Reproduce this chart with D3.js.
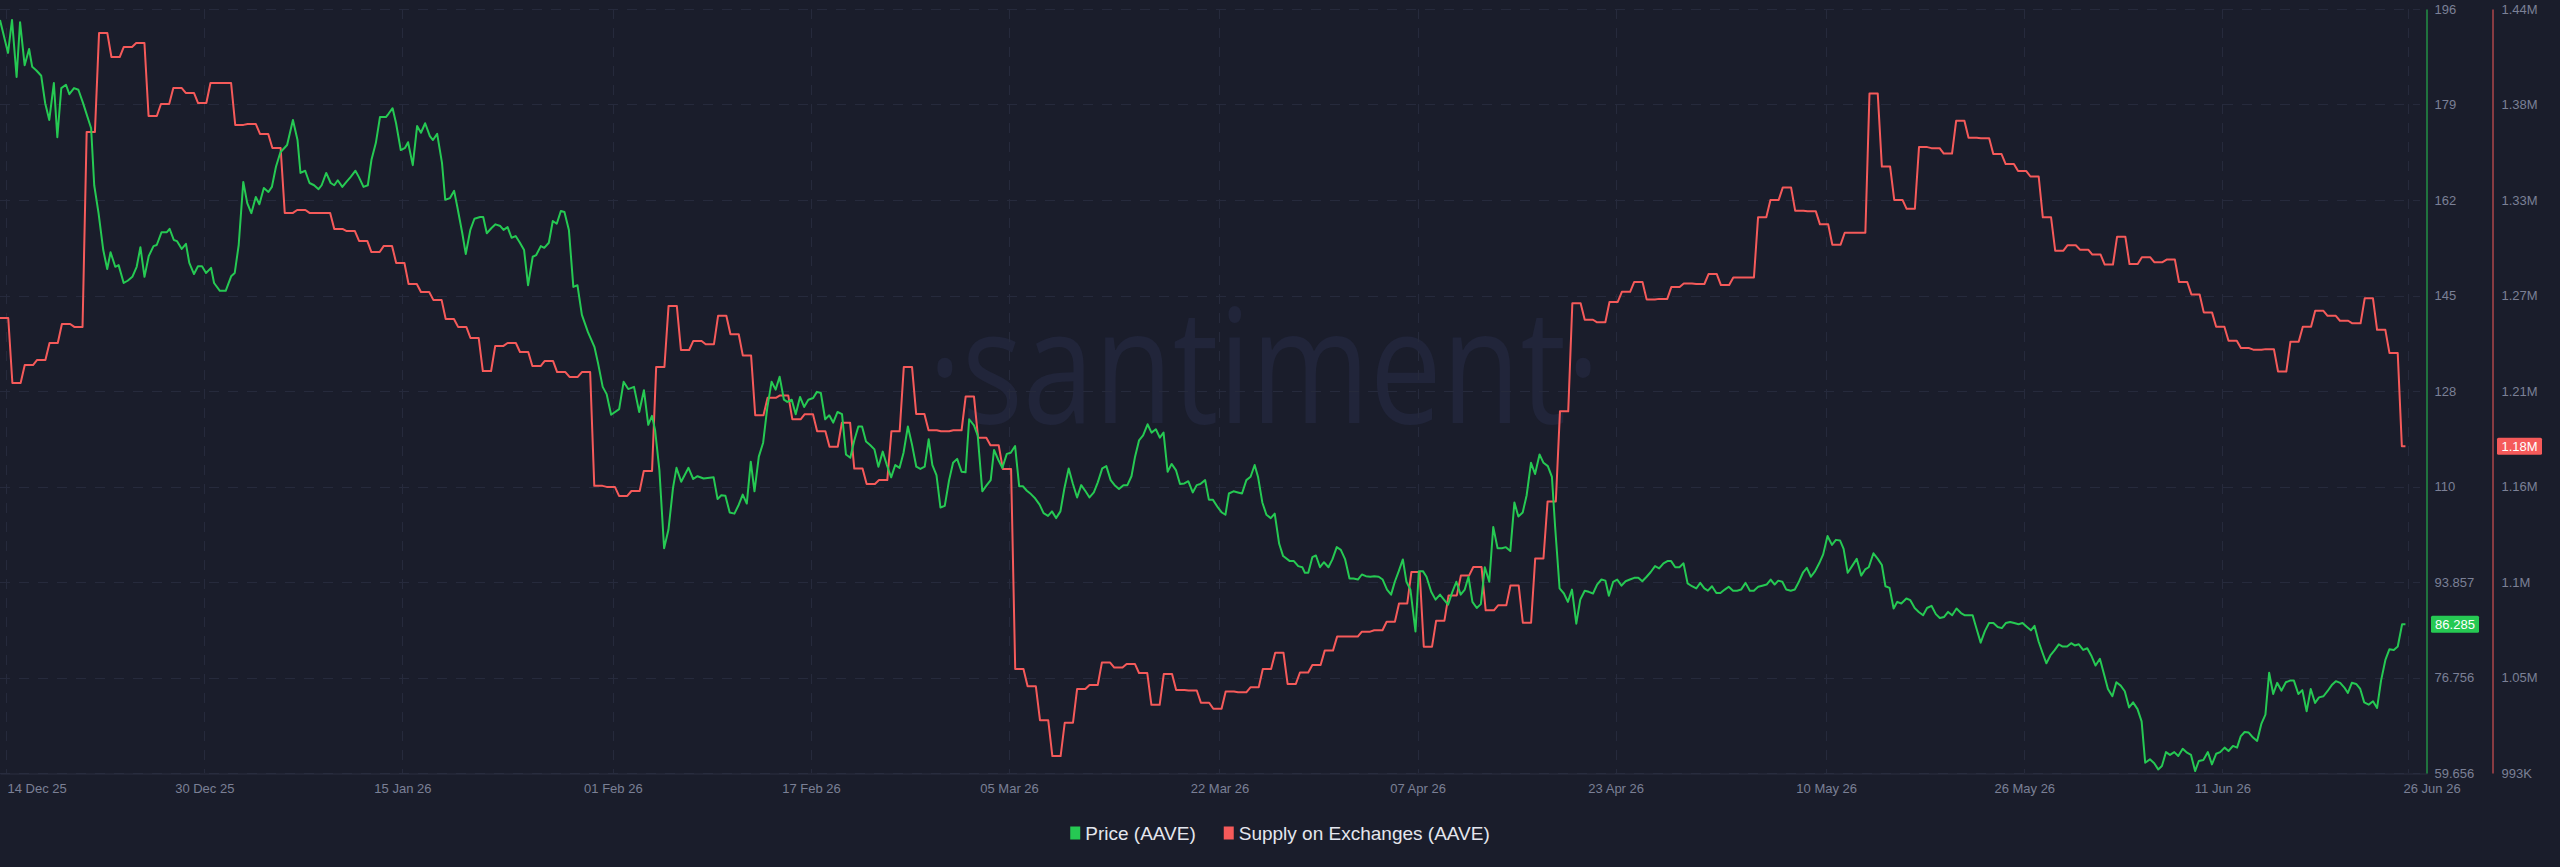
<!DOCTYPE html>
<html>
<head>
<meta charset="utf-8">
<script src="https://cdn.jsdelivr.net/npm/d3@7"></script>
<style>
  html, body { margin: 0; padding: 0; background: #1a1d2b; }
  svg { display: block; }
</style>
</head>
<body>
<div id="chart-area"></div>
<script>

// AAVE: price vs supply on exchanges, 14 Dec 25 -> 26 Jun 26 (UTC)
var DAY = 864e5;
var startDate = Date.UTC(2025, 11, 14);
var endDate = Date.UTC(2026, 5, 28, 0, 45);

var xTickDates = ["2025-12-14", "2025-12-30", "2026-01-15", "2026-02-01", "2026-02-17", "2026-03-05",
	"2026-03-22", "2026-04-07", "2026-04-23", "2026-05-10", "2026-05-26", "2026-06-11", "2026-06-26"];
var xTickLabels = ["14 Dec 25", "30 Dec 25", "15 Jan 26", "01 Feb 26", "17 Feb 26", "05 Mar 26",
	"22 Mar 26", "07 Apr 26", "23 Apr 26", "10 May 26", "26 May 26", "11 Jun 26", "26 Jun 26"];

var priceTickValues = [59.656, 76.756, 93.857, 110.957, 128.058, 145.158, 162.259, 179.36, 196.46];
var priceTickLabels = ["59.656", "76.756", "93.857", "110", "128", "145", "162", "179", "196"];

var supplyTickValues = [993000, 1048875, 1104750, 1160625, 1216500, 1272375, 1328250, 1384125, 1440000];
var supplyTickLabels = ["993K", "1.05M", "1.1M", "1.16M", "1.21M", "1.27M", "1.33M", "1.38M", "1.44M"];

// price (USD): [days since 14 Dec 25, value]
var priceSeries = [
	[0,194.5],[0.65,188.6],[0.97,194.5],[1.34,184.3],[1.62,194.1],[1.99,186.4],[2.35,189.3],[2.6,186.1],[2.92,185.5],[3.33,184.5],
	[3.65,179.6],[3.98,176.6],[4.35,183.2],[4.63,173.5],[4.95,182.3],[5.33,182.9],[5.6,181.2],[5.98,182.3],[6.33,182],[6.71,179.6],
	[7.36,175.1],[7.61,164.9],[7.96,159.9],[8.34,153.3],[8.66,149.9],[8.93,152.9],[9.31,150.3],[9.58,150.6],[9.99,147.4],[10.31,147.8],
	[10.69,148.5],[11.04,150.3],[11.34,153.8],[11.67,148.5],[12.01,152.2],[12.4,154],[12.66,154.2],[13.05,156.5],[13.48,156.5],[13.7,157.1],
	[14.04,155.1],[14.29,154.9],[14.68,153.5],[15.02,154.4],[15.29,151],[15.67,149],[15.99,150.4],[16.32,150.4],[16.64,149.2],[17.05,150.1],
	[17.29,147.4],[17.76,146],[18.23,146],[18.67,148.6],[18.96,149.2],[19.28,154.2],[19.65,165.5],[19.97,161.7],[20.3,159.9],[20.66,162.8],
	[20.95,161.5],[21.31,164.4],[21.68,163.7],[21.96,164.6],[22.29,168.2],[22.65,170.8],[23.19,172.1],[23.66,176.6],[24.03,173],[24.27,167.1],
	[24.65,167.5],[25,165.3],[25.37,164.9],[25.73,164.2],[25.98,164.9],[26.35,167.1],[26.71,165.3],[27,164.9],[27.28,165.8],[27.65,164.6],
	[27.98,165.5],[28.33,166.4],[28.71,167.5],[28.98,166.4],[29.36,164.6],[29.71,164.9],[30,169.4],[30.36,172.5],[30.69,177.1],[31.17,177.1],
	[31.38,177.7],[31.71,178.7],[31.99,176],[32.37,171.2],[32.72,171.6],[32.96,172.6],[33.34,168.5],[33.69,175.5],[34,174.3],[34.34,176],
	[34.72,173.7],[34.97,173],[35.31,174.1],[35.7,168.9],[35.96,162.3],[36.35,162.6],[36.68,163.9],[36.94,161],[37.34,156.3],[37.62,152.6],
	[37.99,156.9],[38.32,158.9],[38.78,159.2],[39.03,159.2],[39.32,156.3],[39.68,157.2],[40.02,157.9],[40.41,157.6],[40.67,156.9],[41,157.4],
	[41.32,155.5],[41.65,155.8],[41.97,154.7],[42.33,153.3],[42.65,147],[43.03,152.1],[43.31,152.4],[43.68,154],[43.96,153.7],[44.33,154.6],
	[44.65,158.5],[44.97,158],[45.3,160.3],[45.59,160.1],[45.95,156.9],[46.31,146.7],[46.64,147],[47,141.7],[47.49,138.6],[48.02,135.9],
	[48.3,133.1],[48.68,128.8],[49,127.5],[49.36,123.8],[50.01,124.8],[50.37,129.7],[50.74,128.4],[51.21,128.8],[51.63,124.3],[52.01,128.2],
	[52.36,122],[52.66,123.6],[52.91,121.1],[53.26,113.9],[53.64,99.9],[53.99,103.2],[54.36,110.7],[54.64,114.3],[55.02,111.8],[55.61,114.3],
	[55.99,112.3],[56.34,112.8],[56.83,112.4],[57.64,112.6],[57.96,108.7],[58.26,109.4],[58.59,109.3],[58.94,106.3],[59.32,106.1],[59.67,107.7],
	[59.99,109.5],[60.32,107.9],[60.64,115.4],[60.94,110.1],[61.29,116.3],[61.64,118.8],[61.97,125],[62.32,129.7],[62.65,128.3],[62.97,130.6],
	[63.32,126.5],[63.59,126.1],[63.95,126.5],[64.27,123.9],[64.62,127],[64.95,125.2],[65.29,126.5],[65.68,126.8],[65.98,127.9],[66.3,127.7],
	[66.65,123],[66.98,123.7],[67.3,122.4],[67.65,124.3],[68.01,123.9],[68.33,116.7],[68.68,116.1],[69,119.2],[69.33,121.7],[69.63,121.7],
	[69.95,119],[70.28,118.4],[70.63,117.6],[70.95,114.5],[71.3,117.2],[71.63,114.8],[71.98,112.6],[72.31,114.8],[72.66,114.3],[72.98,117],
	[73.33,121.7],[73.66,118.5],[74.01,114.5],[74.34,114.1],[74.69,114.5],[75.01,119.4],[75.31,114.8],[75.64,113],[75.96,107.2],[76.31,107.5],
	[76.66,112.1],[76.98,115.2],[77.31,115.9],[77.67,113.6],[77.99,113.5],[78.28,123],[78.67,121.9],[78.97,120.1],[79.34,110.1],[79.7,111.2],
	[80.02,112.1],[80.29,117.5],[80.64,115.7],[80.96,114.3],[81.32,116.8],[81.64,117],[81.99,118.2],[82.32,111],[82.62,111],[82.94,110.2],
	[83.27,109.6],[83.62,108.8],[83.97,107.7],[84.29,106.2],[84.65,105.7],[84.97,106.5],[85.3,105.3],[85.65,106.5],[85.97,110.6],[86.32,114.2],
	[86.65,111.5],[87,109],[87.33,111.2],[87.68,110.1],[88,109],[88.35,109.9],[88.67,111.7],[89.03,114.2],[89.36,114.6],[89.71,112.1],
	[90.03,111.2],[90.38,110.5],[90.74,111.2],[91.06,111.2],[91.39,112.8],[91.68,116.3],[92,119.2],[92.33,120.1],[92.69,122.1],[93.01,120.6],
	[93.36,121.2],[93.68,119.7],[93.98,120.6],[94.31,113.6],[94.63,115],[94.98,113.9],[95.31,111.4],[95.66,111.5],[95.98,111.9],[96.34,109.9],
	[96.66,111.2],[96.95,111.4],[97.34,112.1],[97.64,108.6],[97.96,108.6],[98.37,107.2],[98.69,106.3],[98.98,105.9],[99.26,109.7],[99.63,110.1],
	[99.99,109.9],[100.32,109.7],[100.67,112.1],[101.01,112.7],[101.34,114.8],[101.62,112.6],[101.96,108.1],[102.29,105.9],[102.64,105.3],[102.96,106.1],
	[103.32,100.7],[103.64,98.5],[104.18,97.6],[104.51,97.6],[104.86,96.7],[105.19,96.5],[105.4,95.5],[105.67,95.5],[106,98.3],[106.29,98.6],
	[106.62,96.5],[106.94,97.4],[107.3,96.5],[107.62,97.9],[107.97,100.1],[108.3,99.6],[108.65,97.9],[109,94.5],[109.33,94.5],[109.68,94.3],
	[110,95.2],[110.33,94.9],[110.68,94.8],[111,94.9],[111.36,94.8],[111.68,94.3],[112.03,92.5],[112.36,91.6],[112.66,93.9],[112.98,95.8],
	[113.31,97.9],[113.6,93.9],[113.92,92.5],[114.33,85],[114.6,95.8],[114.93,95.8],[115.22,94.8],[115.6,92.1],[115.95,90.7],[116.31,91.6],
	[116.63,90.7],[116.96,89.8],[117.31,92.1],[117.63,93.9],[117.98,91.6],[118.31,92.5],[118.61,94.8],[118.93,90.3],[119.28,89.2],[119.61,89.9],
	[119.93,96.5],[120.29,93.9],[120.61,103.7],[120.96,99.9],[121.31,99.9],[121.63,100.1],[121.99,99.4],[122.32,108.1],[122.64,105.6],[122.99,106.3],
	[123.31,109.4],[123.66,115.2],[123.99,113.2],[124.35,116.7],[124.67,115.2],[125.02,114.6],[125.35,112.7],[125.61,103.7],[125.97,92.7],[126.32,91.8],
	[126.64,90.3],[126.97,92.5],[127.32,86.4],[127.64,90.7],[128,92.3],[128.32,92.1],[128.67,91.8],[129,93.4],[129.35,94.3],[129.67,94.1],
	[129.95,91.4],[130.3,93.9],[130.62,94.3],[130.97,93.2],[131.3,94],[131.65,94.3],[132,94.6],[132.33,94.6],[132.65,94],[133,94.8],
	[133.32,95.6],[133.68,96.7],[134.01,96.3],[134.36,97.2],[134.68,97.6],[134.98,97.6],[135.31,96.5],[135.65,96.5],[135.98,97.2],[136.31,93.6],
	[136.66,93.1],[137.01,92.7],[137.33,93.7],[137.66,92.7],[137.95,92.3],[138.28,93.1],[138.63,91.9],[138.96,91.9],[139.31,92.5],[139.63,93],
	[139.98,92.3],[140.31,92.3],[140.63,92.5],[140.99,93.7],[141.34,92.3],[141.66,92.3],[142.01,93],[142.34,93.2],[142.69,93.4],[143.02,94.3],
	[143.34,93.4],[143.63,94.1],[143.96,93.9],[144.28,92.5],[144.64,92.3],[144.97,92.5],[145.32,94],[145.64,95.6],[145.94,96.4],[146.27,94.8],
	[146.61,95.8],[146.94,97.2],[147.26,98.8],[147.61,102.1],[147.97,100.5],[148.29,101.4],[148.62,101.3],[148.91,99.8],[149.24,95.5],[149.59,96.7],
	[149.97,98],[150.33,95],[150.65,96.1],[150.94,96.5],[151.32,99],[151.67,98],[152,96.9],[152.29,93.1],[152.62,92.8],[152.95,89.1],
	[153.24,90.3],[153.57,90],[153.98,90.9],[154.3,90.6],[154.65,89.2],[154.98,88.5],[155.33,87.9],[155.65,89.2],[156.01,89.6],[156.36,88.1],
	[156.68,87.4],[157.03,87.6],[157.35,88.5],[157.68,87.9],[158.03,89.1],[158.39,88.3],[158.71,87.9],[159.03,87.9],[159.33,87.9],[159.66,85.4],
	[159.98,83],[160.33,85.1],[160.66,86.5],[161.01,86.5],[161.36,85.8],[161.69,85.6],[162.01,86.5],[162.36,86.7],[162.69,86.5],[163.04,86.3],
	[163.36,86.5],[163.72,85.8],[164.04,85.2],[164.33,86],[164.66,83.2],[164.99,81.1],[165.29,79.3],[165.61,80.7],[165.94,81.6],[166.29,82.7],
	[166.61,82.3],[166.96,82.3],[167.29,82.9],[167.58,82.5],[167.91,82.7],[168.26,81.7],[168.59,82],[168.91,80.7],[169.26,78.9],[169.61,80.1],
	[169.94,77.4],[170.26,74.7],[170.62,73.4],[170.94,75.9],[171.29,75.3],[171.62,74.3],[171.97,71.4],[172.29,72.3],[172.65,71.1],[172.98,68.9],
	[173.27,61.5],[173.65,62.1],[174,61.4],[174.32,60.3],[174.62,60.9],[174.95,63.4],[175.27,62.9],[175.62,63.4],[175.94,62.7],[176.3,64],
	[176.65,63.3],[176.97,62.9],[177.3,60],[177.6,61.8],[177.97,62],[178.33,63.4],[178.66,61.2],[179,63.1],[179.33,63.4],[179.68,64.2],
	[180,63.6],[180.36,64.5],[180.69,64.2],[180.98,66.2],[181.3,67],[181.63,66.9],[181.98,66],[182.31,65.4],[182.66,68.5],[182.98,70.1],
	[183.28,77.6],[183.61,73.8],[183.93,75.8],[184.28,74.4],[184.63,75.9],[184.96,76.2],[185.28,76.2],[185.64,73.8],[185.96,74.5],[186.31,70.7],
	[186.64,74.7],[186.99,72.2],[187.31,73.2],[187.67,73.4],[187.99,74.3],[188.34,75.4],[188.67,76.1],[189.02,75.8],[189.34,75],[189.64,74],
	[189.96,75.8],[190.31,75.6],[190.64,74.7],[190.96,72.3],[191.32,71.9],[191.67,72.5],[192,71.3],[192.32,76.2],[192.67,79.9],[192.99,81.8],
	[193.35,81.7],[193.67,82.3],[194.02,86.3],[194.29,86.285]
];

// supply on exchanges, thousands of AAVE, one value per day from 14 Dec 25
var supplyDaily = [
	1259.2,1221.2,1231.7,1234.7,1244.6,1255.7,1254.0,1368.1,1426.0,1411.9,
	1417.8,1420.1,1377.4,1384.4,1393.8,1390.9,1385.0,1396.7,1396.7,1372.2,
	1372.7,1366.9,1358.7,1320.7,1322.4,1320.7,1320.7,1311.3,1310.1,1304.3,
	1297.8,1301.4,1291.4,1279.1,1274.4,1269.8,1258.6,1254.0,1247.5,1228.2,
	1242.9,1244.6,1239.3,1231.1,1234.1,1227.6,1224.7,1227.6,1161.0,1160.4,
	1155.1,1158.0,1169.7,1230.6,1266.3,1240.5,1245.8,1243.9,1260.5,1249.7,
	1237.2,1202.3,1212.5,1213.9,1199.9,1202.9,1192.9,1183.9,1197.9,1171.1,
	1162.1,1164.4,1192.9,1230.5,1203.1,1193.5,1192.9,1193.5,1213.3,1189.2,
	1184.8,1170.8,1053.8,1043.7,1023.9,1002.9,1022.4,1042.2,1044.5,1057.6,
	1054.7,1056.8,1051.5,1032.9,1050.9,1041.6,1041.3,1034.1,1030.6,1040.7,
	1040.2,1043.1,1053.8,1063.4,1045.1,1051.8,1056.2,1064.6,1072.8,1072.8,
	1075.7,1076.5,1081.5,1092.2,1110.6,1066.9,1082.1,1096.9,1108.6,1113.5,
	1088.2,1091.1,1102.7,1080.9,1118.5,1151.9,1204.6,1267.8,1258.2,1256.7,
	1268.6,1274.5,1280.3,1270.1,1270.4,1277.4,1279.4,1279.1,1284.9,1278.5,
	1282.9,1282.9,1318.1,1328.3,1335.6,1321.9,1321.6,1314.0,1302.1,1309.1,
	1309.1,1390.6,1347.8,1328.3,1323.1,1359.2,1358.6,1355.4,1374.6,1364.7,
	1364.4,1355.1,1349.3,1345.2,1342.0,1318.1,1298.6,1301.8,1299.2,1296.3,
	1290.5,1306.8,1290.8,1294.8,1291.9,1293.4,1280.3,1273.0,1262.5,1254.1,
	1245.9,1241.6,1240.7,1241.0,1227.9,1245.3,1254.1,1263.4,1260.5,1257.6,
	1256.1,1270.7,1252.3,1238.7,1184.2
];

var colorPrice = "#26c953";
var colorSupply = "#f55a5a";
var colorText = "#7b8096";
var colorGrid = "#262a3c";

// SVG Size
var W = 2560, H = 867;
var plot = {left: 0, right: 2427, top: 9, bottom: 773};

var svg = d3.select("#chart-area").append("svg")
	.attr("width", W)
	.attr("height", H)
	.style("font-family", "'Liberation Sans', Arial, sans-serif");

svg.append("rect").attr("width", W).attr("height", H).attr("fill", "#1a1d2b");

function toDate(days) { return new Date(startDate + days * DAY); }

var x = d3.scaleTime()
	.domain([new Date(startDate), new Date(endDate)])
	.range([plot.left, plot.right]);
var yPrice = d3.scaleLinear().domain([priceTickValues[0], priceTickValues[8]]).range([plot.bottom, plot.top]);
var ySupply = d3.scaleLinear().domain([supplyTickValues[0], supplyTickValues[8]]).range([plot.bottom, plot.top]);

// ticks sit around mid-day
var xTicks = xTickDates.map(function(s){ return new Date(Date.parse(s + "T12:00:00Z")); });

// watermark
svg.append("text")
	.attr("x", 1264).attr("y", 423)
	.attr("text-anchor", "middle")
	.attr("font-family", "'Open Sans', sans-serif")
	.attr("font-size", 160)
	.attr("textLength", 672)
	.attr("lengthAdjust", "spacingAndGlyphs")
	.attr("fill", "#21253a")
	.text("\u00B7santiment\u00B7");

// grid
var grid = svg.append("g")
	.attr("stroke", colorGrid)
	.attr("stroke-width", 1)
	.attr("stroke-dasharray", "10,9");

grid.selectAll("line.h").data(priceTickValues).enter().append("line")
	.attr("class", "h")
	.attr("x1", plot.left).attr("x2", plot.right - 7)
	.attr("y1", function(d){ return Math.round(yPrice(d)) + 0.5; })
	.attr("y2", function(d){ return Math.round(yPrice(d)) + 0.5; });

grid.selectAll("line.v").data(xTicks).enter().append("line")
	.attr("class", "v")
	.attr("x1", function(d){ return Math.round(x(d)) + 0.5; })
	.attr("x2", function(d){ return Math.round(x(d)) + 0.5; })
	.attr("y1", plot.top).attr("y2", plot.bottom);

// x axis
var xAxis = d3.axisBottom(x)
	.tickValues(xTicks)
	.tickFormat(function(d, i){ return xTickLabels[i]; })
	.tickSize(0)
	.tickSizeOuter(0)
	.tickPadding(10);

var gx = svg.append("g")
	.attr("transform", "translate(0," + (plot.bottom + 0.5) + ")")
	.call(xAxis);
gx.select(".domain").attr("stroke", "#2a2e40");
gx.selectAll("text")
	.attr("fill", colorText)
	.attr("font-size", 13)
	.attr("font-family", "'Liberation Sans', Arial, sans-serif");
gx.selectAll(".tick text").filter(function(d, i){ return i === 0; })
	.attr("text-anchor", "start").attr("x", 7 - x(xTicks[0]));
gx.selectAll(".tick text").filter(function(d, i){ return i === xTicks.length - 1; })
	.attr("text-anchor", "start").attr("x", -5);

// right axes
var priceAxis = d3.axisRight(yPrice)
	.tickValues(priceTickValues)
	.tickFormat(function(d, i){ return priceTickLabels[i]; })
	.tickSize(0).tickSizeOuter(0).tickPadding(8);
var gp = svg.append("g")
	.attr("transform", "translate(" + (plot.right - 0.5) + ",0)")
	.call(priceAxis);
gp.select(".domain").attr("stroke", colorPrice).attr("stroke-width", 1);

var supplyAxis = d3.axisRight(ySupply)
	.tickValues(supplyTickValues)
	.tickFormat(function(d, i){ return supplyTickLabels[i]; })
	.tickSize(0).tickSizeOuter(0).tickPadding(9);
var gs = svg.append("g")
	.attr("transform", "translate(" + (plot.right + 66 - 0.5) + ",0)")
	.call(supplyAxis);
gs.select(".domain").attr("stroke", colorSupply).attr("stroke-width", 1);

svg.selectAll(".tick text")
	.attr("fill", colorText)
	.attr("font-size", 13)
	.attr("font-family", "'Liberation Sans', Arial, sans-serif");

// lines
var lastDay = priceSeries[priceSeries.length - 1][0];

var supplyPoints = [];
supplyDaily.forEach(function(v, i){
	supplyPoints.push([i, v * 1000]);
	supplyPoints.push([Math.min(i + 2 / 3, lastDay), v * 1000]);
});

var supplyLine = d3.line()
	.x(function(d){ return x(toDate(d[0])); })
	.y(function(d){ return ySupply(d[1]); });

var priceLine = d3.line()
	.x(function(d){ return x(toDate(d[0])); })
	.y(function(d){ return yPrice(d[1]); });

svg.append("path")
	.datum(supplyPoints)
	.attr("fill", "none")
	.attr("stroke", colorSupply)
	.attr("stroke-width", 2)
	.attr("stroke-linejoin", "round")
	.attr("d", supplyLine);

svg.append("path")
	.datum(priceSeries)
	.attr("fill", "none")
	.attr("stroke", colorPrice)
	.attr("stroke-width", 2)
	.attr("stroke-linejoin", "round")
	.attr("d", priceLine);

// last value badges
var lastPrice = priceSeries[priceSeries.length - 1][1];
var lastSupply = supplyDaily[supplyDaily.length - 1] * 1000;

function badge(xLeft, w, yMid, color, label) {
	svg.append("rect")
		.attr("x", xLeft).attr("y", yMid - 8.5)
		.attr("width", w).attr("height", 17)
		.attr("rx", 1.5)
		.attr("fill", color);
	svg.append("text")
		.attr("x", xLeft + w / 2).attr("y", yMid)
		.attr("text-anchor", "middle")
		.attr("dominant-baseline", "central")
		.attr("fill", "#ffffff")
		.attr("font-size", 13)
		.text(label);
}
badge(plot.right + 4, 48, yPrice(lastPrice), colorPrice, d3.format(".3f")(lastPrice));
badge(plot.right + 70, 45, ySupply(lastSupply), colorSupply, d3.format(".3s")(lastSupply).replace("k", "K"));

// legend
var legendItems = [
	{name: "Price (AAVE)", color: colorPrice},
	{name: "Supply on Exchanges (AAVE)", color: colorSupply}
];
var legend = svg.append("g");
var lx = 0;
legendItems.forEach(function(item, i){
	var g = legend.append("g").attr("transform", "translate(" + lx + ",0)");
	g.append("rect")
		.attr("x", 0).attr("y", -6.5)
		.attr("width", 10).attr("height", 13)
		.attr("fill", item.color);
	var t = g.append("text")
		.attr("x", 15).attr("y", 0)
		.attr("dominant-baseline", "central")
		.attr("fill", "#e4e6ee")
		.attr("font-size", 19)
		.text(item.name);
	lx += 15 + t.node().getComputedTextLength() + 28;
});
var legendW = lx - 28;
legend.attr("transform", "translate(" + (W / 2 - legendW / 2) + ",833)");

</script>
</body>
</html>
